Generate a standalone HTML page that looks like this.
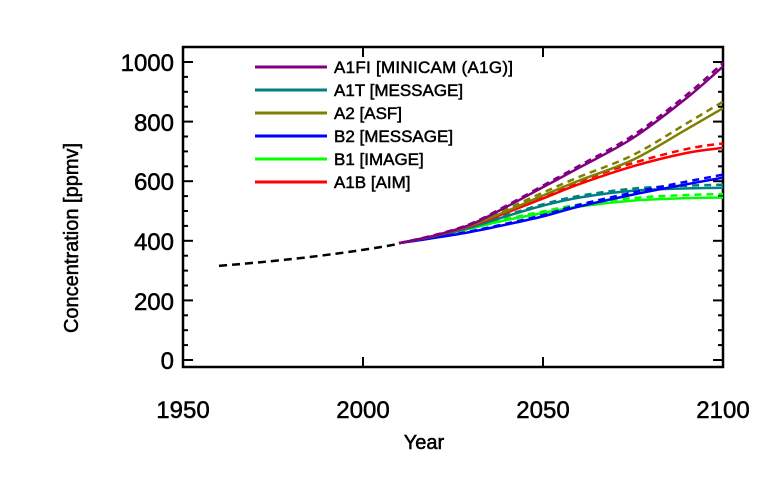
<!DOCTYPE html>
<html><head><meta charset="utf-8"><style>
body{margin:0;background:#fff;width:778px;height:479px;overflow:hidden}
text{font-family:"Liberation Sans",Arial,sans-serif;fill:#000;stroke:#000;stroke-width:0.5}
</style></head><body>
<svg id="s" width="778" height="479" xmlns="http://www.w3.org/2000/svg">
<rect x="183" y="47" width="540" height="320" fill="none" stroke="#000" stroke-width="2.5"/>
<g id="ticks" stroke="#000" stroke-width="2"></g>
<g font-size="24" text-anchor="end">
<text x="174" y="369">0</text><text x="174" y="310">200</text><text x="174" y="250">400</text>
<text x="174" y="190">600</text><text x="174" y="131">800</text><text x="174" y="71">1000</text>
</g>
<g font-size="24" text-anchor="middle">
<text x="183" y="418">1950</text><text x="363" y="418">2000</text><text x="543" y="418">2050</text><text x="723" y="418">2100</text>
<text x="424" y="449" font-size="20">Year</text>
</g>
<text font-size="20" text-anchor="middle" transform="translate(78,238) rotate(-90)">Concentration [ppmv]</text>
<g id="series" fill="none"></g>
<g font-size="17">
<line x1="255" y1="67" x2="327" y2="67" stroke="#800080" stroke-width="3"/><text x="334" y="73" textLength="179">A1FI [MINICAM (A1G)]</text>
<line x1="255" y1="90" x2="327" y2="90" stroke="#008080" stroke-width="3"/><text x="334" y="96">A1T [MESSAGE]</text>
<line x1="255" y1="113" x2="327" y2="113" stroke="#808000" stroke-width="3"/><text x="334" y="119">A2 [ASF]</text>
<line x1="255" y1="136" x2="327" y2="136" stroke="#0000ff" stroke-width="3"/><text x="334" y="142">B2 [MESSAGE]</text>
<line x1="255" y1="159" x2="327" y2="159" stroke="#00ff00" stroke-width="3"/><text x="334" y="165">B1 [IMAGE]</text>
<line x1="255" y1="182" x2="327" y2="182" stroke="#ff0000" stroke-width="3"/><text x="334" y="188">A1B [AIM]</text>
</g>
</svg>
<script>
var X=function(y){return 183+(y-1950)*3.6},Y=function(v){return 360-v*0.298};
var t='';
for(var v=0;v<=1000;v+=50){var yy=Y(v),L=(v%200==0)?10:5;t+='<line x1="183" y1="'+yy+'" x2="'+(183+L)+'" y2="'+yy+'"/><line x1="723" y1="'+yy+'" x2="'+(723-L)+'" y2="'+yy+'"/>';}
[2000,2050].forEach(function(y){var x=X(y);t+='<line x1="'+x+'" y1="367" x2="'+x+'" y2="357"/><line x1="'+x+'" y1="47" x2="'+x+'" y2="57"/>';});
document.getElementById('ticks').innerHTML=t;
var yrs=[2010,2020,2030,2040,2050,2060,2075,2090,2100];
var S=[
['#00ff00',[392,415,442,470,493,515,535,543,545],12],
['#008080',[392,415,445,483,518,545,568,576,578],10],
['#0000ff',[392,410,430,455,482,515,555,590,612],10],
['#ff0000',[392,417,450,495,542,590,650,695,712],15],
['#808000',[392,417,452,500,552,602,672,775,845],22],
['#800080',[392,418,455,515,580,645,745,880,985],12]];
function path(vals,off){var p=[];for(var i=0;i<vals.length;i++){var f=(yrs[i]-2010)/90;p.push([X(yrs[i]),Y(vals[i]+off*f)]);}
var d='M'+p[0][0]+','+p[0][1];
for(var i=0;i<p.length-1;i++){var p0=p[Math.max(i-1,0)],p1=p[i],p2=p[i+1],p3=p[Math.min(i+2,p.length-1)];
d+=' C'+(p1[0]+(p2[0]-p0[0])/6)+','+(p1[1]+(p2[1]-p0[1])/6)+' '+(p2[0]-(p3[0]-p1[0])/6)+','+(p2[1]-(p3[1]-p1[1])/6)+' '+p2[0]+','+p2[1];}
return d;}
var s='<path d="M'+X(1960)+','+Y(316)+' Q'+X(1990)+','+Y(345)+' '+X(2010)+','+Y(390)+'" stroke="#000" stroke-width="2.5" stroke-dasharray="8,5"/>';
S.forEach(function(a){s+='<path d="'+path(a[1],0)+'" stroke="'+a[0]+'" stroke-width="2.5"/><path d="'+path(a[1],a[2])+'" stroke="'+a[0]+'" stroke-width="2.5" stroke-dasharray="7,5"/>';});
document.getElementById('series').innerHTML=s;
</script>
</body></html>
